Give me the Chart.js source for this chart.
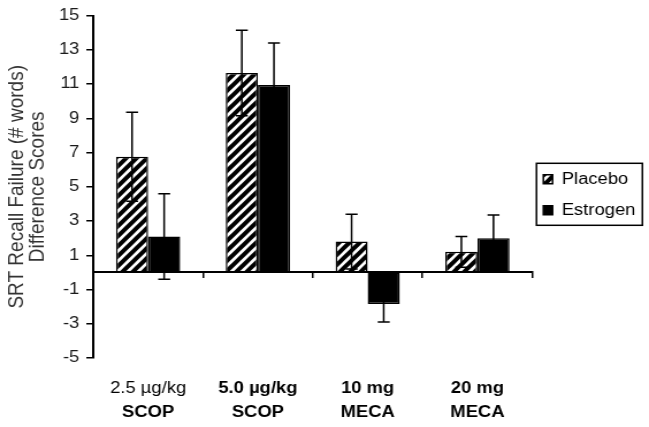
<!DOCTYPE html>
<html><head><meta charset="utf-8">
<script src="https://cdn.jsdelivr.net/npm/chart.js@4"></script>
<style>
html,body{margin:0;padding:0;background:#fff;overflow:hidden}
#wrap{width:564px;height:427px;transform:scaleX(1.1507);transform-origin:0 0}
</style></head><body>
<div id="wrap"><canvas id="c" width="564" height="427"></canvas></div>
<script>
const categories = ['2.5 µg/kg SCOP', '5.0 µg/kg SCOP', '10 mg MECA', '20 mg MECA'];
const doseLabels = ['2.5 µg/kg', '5.0 µg/kg', '10 mg', '20 mg'];
const drugLabels = ['SCOP', 'SCOP', 'MECA', 'MECA'];
const doseBold = [false, true, true, true];
const placeboValues = [6.75, 11.65, 1.8, 1.2];
const placeboErrors = [2.6, 2.5, 1.6, 0.9];
const estrogenValues = [2.1, 10.95, -1.85, 2.0];
const estrogenErrors = [2.5, 2.45, 1.05, 1.35];
const yTicks = [-5, -3, -1, 1, 3, 5, 7, 9, 11, 13, 15];
const seriesNames = ['Placebo', 'Estrogen'];
const yTitle = ['SRT Recall Failure (# words)', 'Difference Scores'];

const F = "'Liberation Sans', Arial, sans-serif";
const canvas = document.getElementById('c');
const mainCtx = canvas.getContext('2d');

function makeHatch() {
  const w = 9, h = 10;
  const c = document.createElement('canvas');
  c.width = w; c.height = h;
  const g = c.getContext('2d');
  g.fillStyle = '#fff'; g.fillRect(0, 0, w, h);
  g.strokeStyle = '#000'; g.lineWidth = 3.9;
  g.beginPath();
  for (let k = -2; k <= 2; k++) {
    g.moveTo(k * w - w, 2 * h);
    g.lineTo(k * w + 2 * w, -h);
  }
  g.stroke();
  return mainCtx.createPattern(c, 'repeat');
}
const hatch = makeHatch();

const errorBars = {
  id: 'errorBars',
  afterDatasetsDraw(chart) {
    const ctx = chart.ctx, ys = chart.scales.y;
    chart.data.datasets.forEach((ds, i) => {
      const meta = chart.getDatasetMeta(i);
      meta.data.forEach((bar, j) => {
        const v = ds.data[j], e = ds.errors[j];
        const x = bar.x;
        const t = ys.getPixelForValue(v + e), b = ys.getPixelForValue(v - e);
        ctx.save();
        ctx.strokeStyle = '#000'; ctx.lineWidth = 1.5;
        ctx.beginPath();
        ctx.moveTo(x, t); ctx.lineTo(x, b);
        ctx.moveTo(x - 5.2, t); ctx.lineTo(x + 5.2, t);
        ctx.moveTo(x - 5.2, b); ctx.lineTo(x + 5.2, b);
        ctx.stroke();
        ctx.restore();
      });
    });
  }
};

const legendFrame = {
  id: 'legendFrame',
  afterLayout(chart) {
    const lg = chart.legend;
    if (!lg) return;
    lg.left -= 5.4; lg.right -= 5.4;
    lg.top += 8; lg.bottom += 8;
  },
  afterDraw(chart) {
    const lg = chart.legend;
    if (!lg || !lg.legendHitBoxes || !lg.legendHitBoxes.length) return;
    const hb = lg.legendHitBoxes;
    let l = Infinity, r = -Infinity, t = Infinity, b = -Infinity;
    hb.forEach(h => { l = Math.min(l, h.left); r = Math.max(r, h.left + h.width); t = Math.min(t, h.top); b = Math.max(b, h.top + h.height); });
    const ctx = chart.ctx;
    ctx.save();
    ctx.strokeStyle = '#000'; ctx.lineWidth = 1.5;
    ctx.strokeRect(l - 6, t - 8, (r + 6) - (l - 6), (b + 7) - (t - 8));
    ctx.restore();
  }
};

new Chart(canvas, {
  type: 'bar',
  data: {
    labels: categories,
    datasets: [
      { label: seriesNames[0], data: placeboValues, errors: placeboErrors, xAxisID: 'x', yAxisID: 'y',
        backgroundColor: hatch, borderColor: '#000', borderWidth: 1.5, borderSkipped: false },
      { label: seriesNames[1], data: estrogenValues, errors: estrogenErrors, xAxisID: 'x', yAxisID: 'y',
        backgroundColor: '#000', borderColor: '#000', borderWidth: 1.5, borderSkipped: false }
    ]
  },
  options: {
    responsive: false,
    devicePixelRatio: 1,
    animation: false,
    categoryPercentage: 0.585,
    barPercentage: 1.0,
    layout: { padding: { left: 0, right: 0, top: 15, bottom: 5 } },
    plugins: {
      tooltip: { enabled: false },
      legend: {
        position: 'right',
        fullSize: false,
        maxWidth: 101.4,
        labels: { boxWidth: 8, boxHeight: 9, padding: 15, color: '#000', font: { family: F, size: 16 } }
      }
    },
    scales: {
      x: {
        type: 'category', position: { y: 0 }, offset: true,
        grid: { display: true, offset: true, drawOnChartArea: false, drawTicks: true, tickLength: 5, color: '#000', lineWidth: 1.5 },
        border: { display: true, color: '#000', width: 2 },
        ticks: { display: false }
      },
      xa: {
        type: 'category', labels: doseLabels, position: 'bottom', offset: true,
        grid: { display: false, drawTicks: false }, border: { display: false },
        ticks: { padding: 21, color: '#000', maxRotation: 0, autoSkip: false,
          font: (c) => ({ family: F, size: 16, weight: doseBold[c.index] ? 'bold' : 'normal' }) },
        afterFit: (s) => { s.height = 39; }
      },
      xb: {
        type: 'category', labels: drugLabels, position: 'bottom', offset: true,
        grid: { display: false, drawTicks: false }, border: { display: false },
        ticks: { padding: 6, color: '#000', maxRotation: 0, autoSkip: false,
          font: { family: F, size: 16, weight: 'bold' } },
        afterFit: (s) => { s.height = 25; }
      },
      y: {
        min: -5, max: 15,
        afterBuildTicks: (s) => { s.ticks = yTicks.map(v => ({ value: v })); },
        grid: { drawOnChartArea: false, tickLength: 6, color: '#000', lineWidth: 1.5 },
        border: { display: true, color: '#000', width: 2 },
        ticks: { padding: 6, color: '#1a1a1a', font: { family: F, size: 16 } },
        title: { display: true, text: yTitle, color: '#333', font: { family: F, size: 19, lineHeight: 0.95 }, padding: { top: 6, bottom: 0 } },
        afterFit: (s) => { s.width = 81; }
      }
    }
  },
  plugins: [errorBars, legendFrame]
});
</script>
</body></html>
